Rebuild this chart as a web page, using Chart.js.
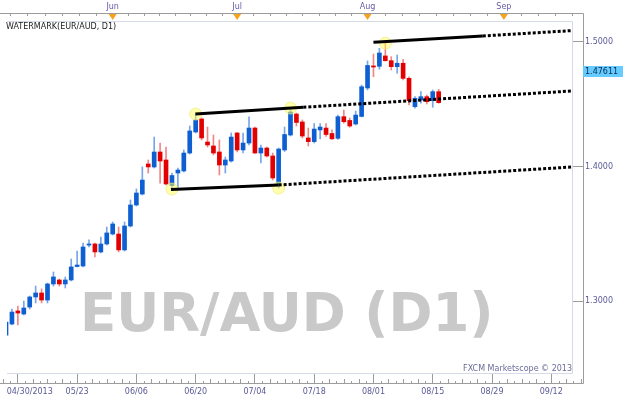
<!DOCTYPE html>
<html>
<head>
<meta charset="utf-8">
<script src="https://cdn.jsdelivr.net/npm/chart.js@4.4.0/dist/chart.umd.min.js"></script>
<style>
  html, body { margin: 0; padding: 0; background: #fff; }
  canvas { display: block; }
</style>
</head>
<body>
<canvas id="fx" width="623" height="413"></canvas>
<script>
// trading day index of the first candle, 0 = 05/23/2013
const firstDay = -12;

const opens = [1.2759,1.2837,1.2930,1.2908,1.2958,1.3030,1.3059,1.3008,1.3124,1.3153,1.3124,1.3153,
  1.3251,1.3255,1.3409,1.3417,1.3358,1.3417,1.3491,1.3491,1.3373,1.3551,1.3709,1.3792,
  1.4023,1.4000,1.4116,1.4054,1.3857,1.3953,1.3969,1.4108,1.4273,1.4376,1.4194,1.4163,
  1.4116,1.4015,1.4046,1.4265,1.4132,1.4186,1.4304,1.4108,1.4147,1.4085,1.3861,1.4132,
  1.4249,1.4415,1.4352,1.4226,1.4197,1.4289,1.4304,1.4261,1.4223,1.4394,1.4364,1.4336,
  1.4396,1.4624,1.4803,1.4800,1.4885,1.4846,1.4797,1.4825,1.4702,1.4474,1.4527,1.4554,
  1.4522,1.4594];
const highs = [1.2880,1.2944,1.2965,1.3001,1.3037,1.3109,1.3088,1.3131,1.3211,1.3160,1.3175,1.3306,
  1.3365,1.3424,1.3447,1.3424,1.3469,1.3543,1.3581,1.3543,1.3581,1.3747,1.3831,1.4000,
  1.4054,1.4233,1.4186,1.4155,1.3953,1.3992,1.4132,1.4320,1.4415,1.4384,1.4312,1.4249,
  1.4210,1.4077,1.4265,1.4268,1.4265,1.4392,1.4312,1.4171,1.4155,1.4108,1.4147,1.4312,
  1.4463,1.4423,1.4368,1.4304,1.4340,1.4340,1.4340,1.4289,1.4407,1.4447,1.4384,1.4439,
  1.4648,1.4844,1.4901,1.4948,1.4995,1.4879,1.4893,1.4857,1.4715,1.4554,1.4594,1.4567,
  1.4608,1.4613];
const lows = [1.2738,1.2830,1.2830,1.2901,1.2944,1.2987,1.2987,1.2987,1.3109,1.3109,1.3095,1.3146,
  1.3248,1.3248,1.3395,1.3321,1.3350,1.3409,1.3484,1.3358,1.3365,1.3543,1.3701,1.3785,
  1.3953,1.3992,1.3876,1.3861,1.3830,1.3823,1.3961,1.4100,1.4265,1.4210,1.4155,1.4093,
  1.3938,1.3953,1.4038,1.4116,1.4108,1.4171,1.4104,1.4031,1.4077,1.3899,1.3838,1.4120,
  1.4241,1.4320,1.4226,1.4163,1.4186,1.4218,1.4237,1.4214,1.4215,1.4342,1.4310,1.4328,
  1.4392,1.4608,1.4715,1.4776,1.4842,1.4770,1.4743,1.4689,1.4487,1.4461,1.4501,1.4495,
  1.4469,1.4501];
const closes = [1.2851,1.2922,1.2915,1.2951,1.3030,1.3059,1.3008,1.3124,1.3175,1.3124,1.3153,1.3248,
  1.3262,1.3395,1.3417,1.3358,1.3417,1.3499,1.3566,1.3373,1.3551,1.3709,1.3800,1.3899,
  1.4000,1.4116,1.4046,1.3869,1.3934,1.3976,1.4108,1.4281,1.4368,1.4226,1.4171,1.4108,
  1.4015,1.4054,1.4233,1.4132,1.4186,1.4304,1.4108,1.4147,1.4085,1.3915,1.4139,1.4253,
  1.4431,1.4348,1.4241,1.4197,1.4296,1.4312,1.4253,1.4219,1.4394,1.4354,1.4320,1.4407,
  1.4634,1.4807,1.4794,1.4909,1.4846,1.4797,1.4825,1.4702,1.4522,1.4541,1.4554,1.4514,
  1.4594,1.4506];

// trend lines: [day index, price]
const topLine = [[50.0, 1.4997], [68.45, 1.5050]];
const topLineExt = [[68.45, 1.5050], [83.6, 1.5095]];
const midLine = [[19.95, 1.4415], [38.17, 1.4469]];
const midLineExt = [[38.17, 1.4469], [83.6, 1.4600]];
const lowLine = [[15.83, 1.3827], [34.0, 1.3861]];
const lowLineExt = [[34.0, 1.3861], [83.6, 1.4000]];
const touches = [[16, 1.3830], [20, 1.4415], [34, 1.3838], [36, 1.4463], [52, 1.4990]];

// axes
const tickDays = [-10, -8, 0, 10, 20, 30, 40, 50, 60, 70, 80];
const tickLabels = ['', '04/30/2013', '05/23', '06/06', '06/20', '07/04', '07/18', '08/01', '08/15', '08/29', '09/12'];
const priceTicks = [1.3, 1.4, 1.5];
const lastPrice = 1.47611;
const months = ['Jun', 'Jul', 'Aug', 'Sep'];
const monthDays = [6, 27, 49, 72];
const monthEdges = [-17, 6, 27, 49, 72, 95];
const title = 'WATERMARK(EUR/AUD, D1)';
const watermark = 'EUR/AUD (D1)';
const credit = 'FXCM Marketscope \u00a9 2013';

const days = opens.map((_, k) => firstDay + k);
const isUp = k => closes[k] >= opens[k];
const pts = arr => arr.map(p => ({x: p[0], y: p[1]}));

const axisFont = {family: 'DejaVu Sans', size: 8};
const axisColor = '#5a5a96';

const decor = {
  id: 'decor',
  beforeDatasetsDraw(chart) {
    const ctx = chart.ctx;
    ctx.save();
    ctx.font = 'bold 53px "DejaVu Sans"';
    ctx.fillStyle = '#c9c9c9';
    ctx.textBaseline = 'alphabetic';
    ctx.fillText(watermark, 80, 331);
    ctx.restore();
  },
  afterDraw(chart) {
    const {ctx, chartArea: a, scales: {x, y}} = chart;
    const fr = a.right + 10, top = 13, bot = a.bottom + 10;
    ctx.save();

    // inner box (no left edge)
    ctx.strokeStyle = '#d5dbe6';
    ctx.lineWidth = 1;
    ctx.beginPath();
    ctx.moveTo(a.left, a.top + 0.5);
    ctx.lineTo(a.right - 0.5, a.top + 0.5);
    ctx.lineTo(a.right - 0.5, a.bottom + 0.5);
    ctx.lineTo(a.left, a.bottom + 0.5);
    ctx.stroke();

    // outer frame
    ctx.strokeStyle = '#9c9c9c';
    ctx.beginPath();
    ctx.moveTo(0, top + 0.5);
    ctx.lineTo(fr + 0.5, top + 0.5);
    ctx.lineTo(fr + 0.5, bot + 0.5);
    ctx.lineTo(0, bot + 0.5);
    ctx.stroke();

    // top month ticks
    ctx.beginPath();
    for (let j = 0; j < monthEdges.length - 1; j++) {
      for (let k = 0; k < 8; k++) {
        const d = monthEdges[j] + (monthEdges[j + 1] - monthEdges[j]) * k / 8;
        const px = Math.round(x.getPixelForValue(d)) + 0.5;
        if (px < 0 || px > fr) continue;
        ctx.moveTo(px, top);
        ctx.lineTo(px, top + 3);
      }
    }
    // bottom minor ticks
    for (let m = -20; m <= 90; m += 10) {
      for (let k = 1; k < 8; k++) {
        const px = Math.round(x.getPixelForValue(m + 10 * k / 8)) + 0.5;
        if (px < 0 || px > fr) continue;
        ctx.moveTo(px, bot);
        ctx.lineTo(px, bot - (k % 2 ? 2 : 4));
      }
    }
    ctx.stroke();

    // month markers
    ctx.font = '8px "DejaVu Sans"';
    ctx.textAlign = 'center';
    ctx.textBaseline = 'middle';
    months.forEach((m, j) => {
      const px = x.getPixelForValue(monthDays[j]);
      ctx.fillStyle = '#6a5aa6';
      ctx.fillText(m, px, 6.5);
      ctx.fillStyle = '#f5a21e';
      ctx.beginPath();
      ctx.moveTo(px - 4, top + 1);
      ctx.lineTo(px + 4, top + 1);
      ctx.lineTo(px, top + 7);
      ctx.closePath();
      ctx.fill();
    });

    // title and credit
    ctx.textAlign = 'left';
    ctx.fillStyle = '#222';
    ctx.fillText(title, 6, a.top + 6);
    ctx.textAlign = 'right';
    ctx.fillStyle = '#6b6b9b';
    ctx.fillText(credit, a.right - 1, a.bottom - 4);

    // last price box
    const py = y.getPixelForValue(lastPrice);
    ctx.fillStyle = '#66ccff';
    ctx.fillRect(fr, Math.round(py) - 5, 40, 11);
    ctx.fillStyle = '#0a2a55';
    ctx.textAlign = 'left';
    ctx.fillText(lastPrice.toFixed(5), fr + 2, py + 0.5);
    ctx.restore();
  }
};

new Chart(document.getElementById('fx'), {
  type: 'bar',
  data: {
    datasets: [
      {type: 'line', data: pts(topLine), borderColor: '#000', borderWidth: 3, pointRadius: 0, order: 0},
      {type: 'line', data: pts(midLine), borderColor: '#000', borderWidth: 3, pointRadius: 0, order: 0},
      {type: 'line', data: pts(lowLine), borderColor: '#000', borderWidth: 3, pointRadius: 0, order: 0},
      {type: 'line', data: pts(topLineExt), borderColor: '#000', borderWidth: 3, borderDash: [3, 2], pointRadius: 0, order: 0},
      {type: 'line', data: pts(midLineExt), borderColor: '#000', borderWidth: 3, borderDash: [3, 2], pointRadius: 0, order: 0},
      {type: 'line', data: pts(lowLineExt), borderColor: '#000', borderWidth: 3, borderDash: [3, 2], pointRadius: 0, order: 0},
      {type: 'scatter', data: pts(touches), pointRadius: 6, backgroundColor: 'rgba(255,255,90,0.5)',
        borderColor: 'rgba(235,235,120,0.7)', borderWidth: 1, order: 1},
      {data: days.map((d, k) => ({x: d, y: [lows[k], highs[k]]})),
        backgroundColor: days.map((d, k) => isUp(k) ? '#78a6e8' : '#f08686'),
        barThickness: 1, grouped: false, order: 3},
      {data: days.map((d, k) => ({x: d, y: [opens[k], closes[k]]})),
        backgroundColor: days.map((d, k) => isUp(k) ? '#0d5fd2' : '#e30000'),
        barThickness: 4, grouped: false, minBarLength: 1, order: 2}
    ]
  },
  options: {
    responsive: false,
    animation: false,
    layout: {padding: {top: 21, left: 0, right: 0, bottom: 0}},
    plugins: {legend: {display: false}, tooltip: {enabled: false}},
    scales: {
      x: {
        type: 'linear', min: -71 / 6, max: 502 / 6, offset: false, bounds: 'data',
        grid: {offset: false, drawOnChartArea: false, tickLength: 10,
          tickColor: c => (c.tick && c.index === 1) ? 'rgba(0,0,0,0)' : '#9c9c9c'},
        border: {display: false},
        ticks: {autoSkip: false, maxRotation: 0, padding: 4, font: axisFont, color: axisColor,
          callback: (v, i) => tickLabels[i]},
        afterBuildTicks: s => { s.ticks = tickDays.map(v => ({value: v})); },
        afterFit: s => { s.height = 40; s.paddingLeft = 0; s.paddingRight = 0; }
      },
      y: {
        type: 'logarithmic', position: 'right', min: 1.24944, max: 1.51749, bounds: 'data',
        grid: {drawOnChartArea: false, tickLength: 10, tickColor: '#9c9c9c'},
        border: {display: false},
        ticks: {padding: 2, font: axisFont, color: axisColor, callback: v => Number(v).toFixed(4)},
        afterBuildTicks: s => { s.ticks = priceTicks.map(v => ({value: v})); },
        afterFit: s => { s.width = 50; }
      }
    }
  },
  plugins: [decor]
});
</script>
</body>
</html>
